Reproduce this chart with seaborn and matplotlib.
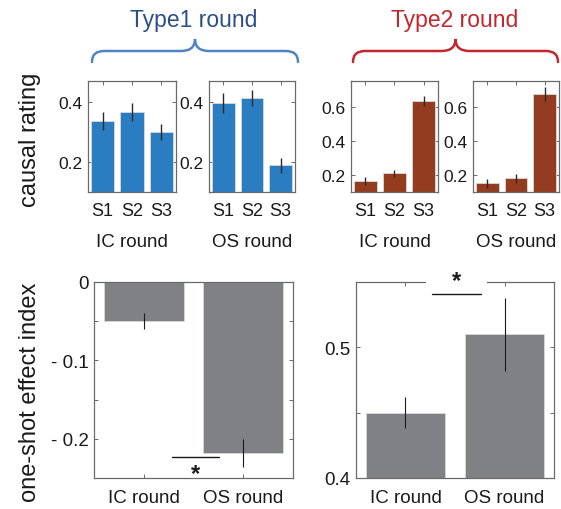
"""Causal ratings per stage and one-shot effect index, Type1 vs Type2 rounds."""

import matplotlib
matplotlib.use("Agg")
import matplotlib.pyplot as plt
from matplotlib.path import Path
from matplotlib.patches import PathPatch
import numpy as np
import pandas as pd
import seaborn as sns

# ── Data ────────────────────────────────────────────
stages = ["S1", "S2", "S3"]
rounds = ["IC round", "OS round"]

type1_ic = [0.337, 0.367, 0.300]
type1_ic_err = [0.030, 0.030, 0.027]
type1_os = [0.397, 0.413, 0.190]
type1_os_err = [0.033, 0.027, 0.025]

type2_ic = [0.165, 0.210, 0.635]
type2_ic_err = [0.022, 0.020, 0.030]
type2_os = [0.150, 0.180, 0.675]
type2_os_err = [0.025, 0.025, 0.040]

effect_type1 = [-0.050, -0.218]
effect_type1_err = [0.010, 0.018]
effect_type2 = [0.450, 0.510]
effect_type2_err = [0.012, 0.028]

# significance bars: (x from, x to, y) in data units of the bottom panels
sig_type1 = (0.28, 0.76, -0.2236)
sig_type2 = (0.27, 0.76, 0.541)

# ── Style ───────────────────────────────────────────
sns.set_theme(style="ticks")
plt.rcParams["font.family"] = ["Liberation Sans", "DejaVu Sans"]

BLUE = "#2b7dc1"
BROWN = "#933c20"
GREY = "#808184"
SPINE = "#6a6a6a"
BLUE_TXT = "#2c4f88"
BLUE_BRACE = "#5384c2"
RED = "#c1272d"

fig = plt.figure(figsize=(5.61, 5.10), dpi=100)
W, H = 561, 510


def px_axes(left, right, top, bottom):
    return fig.add_axes([left / W, 1 - bottom / H, (right - left) / W, (bottom - top) / H])


def style_axes(ax, fs=12.5):
    for s in ax.spines.values():
        s.set_visible(True)
        s.set_color(SPINE)
        s.set_linewidth(0.9)
    ax.tick_params(direction="in", length=3, width=0.7, color=SPINE,
                   top=True, right=True, labelsize=fs, labelcolor="#1a1a1a", pad=4)
    ax.set_xlabel("")
    ax.set_ylabel("")


def bar_panel(ax, cats, vals, errs, color, err_color="#2a2a2a", err_lw=1.0):
    df = pd.DataFrame({"cat": cats, "val": vals})
    sns.barplot(data=df, x="cat", y="val", color=color, width=0.8,
                saturation=1, errorbar=None, edgecolor="#d9d9d9", linewidth=0.6, ax=ax)
    ax.errorbar(np.arange(len(cats)), vals, yerr=errs, fmt="none",
                ecolor=err_color, elinewidth=err_lw, capsize=0, zorder=5)
    ax.set_xlim(-0.5, len(cats) - 0.5)


# ── Top row: causal ratings ─────────────────────────
top_specs = [
    ((88, 176), type1_ic, type1_ic_err, BLUE, (0.1, 0.47), [0.2, 0.4], "IC round"),
    ((209, 295), type1_os, type1_os_err, BLUE, (0.1, 0.47), [0.2, 0.4], "OS round"),
    ((351, 438), type2_ic, type2_ic_err, BROWN, (0.1, 0.75), [0.2, 0.4, 0.6], "IC round"),
    ((473, 559), type2_os, type2_os_err, BROWN, (0.1, 0.75), [0.2, 0.4, 0.6], "OS round"),
]
for (l, r), vals, errs, col, ylim, yt, lab in top_specs:
    ax = px_axes(l, r, 82, 193)
    bar_panel(ax, stages, vals, errs, col)
    ax.set_ylim(*ylim)
    ax.set_yticks(yt)
    ax.set_yticklabels([f"{v:.1f}" for v in yt])
    style_axes(ax, fs=12.5)
    ax.tick_params(axis="x", labelsize=13, pad=7)
    ax.set_xlabel(lab, fontsize=13.5, color="#1a1a1a", labelpad=10)

fig.text(30 / W, 1 - 140 / H, "causal rating", rotation=90, fontsize=17,
         ha="center", va="center", color="#1a1a1a")

# ── Bottom row: one-shot effect index ───────────────
ax1 = px_axes(94, 293, 283, 479)
bar_panel(ax1, rounds, effect_type1, effect_type1_err, GREY, err_color="#1a1a1a", err_lw=0.8)
ax1.set_ylim(-0.25, 0)
ax1.set_yticks([0, -0.05, -0.1, -0.15, -0.2, -0.25])
ax1.set_yticklabels(["0", "", "- 0.1", "", "- 0.2", ""])
style_axes(ax1, fs=13.5)
ax1.tick_params(axis="x", pad=8)
x0, x1, y = sig_type1
ax1.plot([x0, x1], [y, y], color="#1a1a1a", lw=1.0)
ax1.text((x0 + x1) / 2, y - 0.006, "*", fontsize=17, fontweight="bold",
         ha="center", va="top", color="#1a1a1a")

ax2 = px_axes(356, 554, 283, 479)
bar_panel(ax2, rounds, effect_type2, effect_type2_err, GREY, err_color="#1a1a1a", err_lw=0.8)
ax2.set_ylim(0.4, 0.55)
ax2.set_yticks([0.4, 0.45, 0.5, 0.55])
ax2.set_yticklabels(["0.4", "", "0.5", ""])
style_axes(ax2, fs=13.5)
ax2.tick_params(axis="x", pad=8)
x0, x1, y = sig_type2
ax2.plot([x0, x1], [y, y], color="#1a1a1a", lw=1.0)
# white gap in the top frame behind the star
ax2.plot([x0 - 0.06, x1 + 0.06], [0.55, 0.55], color="white", lw=3,
         clip_on=False, zorder=6, solid_capstyle="butt")
ax2.text((x0 + x1) / 2, 0.5515, "*", fontsize=17, fontweight="bold",
         ha="center", va="center", color="#1a1a1a", clip_on=False, zorder=10)

fig.text(30 / W, 1 - 392 / H, "one-shot effect index", rotation=90, fontsize=17,
         ha="center", va="center", color="#1a1a1a")


# ── Braces and group titles ─────────────────────────
def brace(x_left, x_right, color):
    """Curly brace opening downward, in pixel coordinates of the figure."""
    xm = (x_left + x_right) / 2
    y_end, y_flat, y_tip = 63, 52, 40
    pts = [(x_left, y_end), (x_left, y_flat), (x_left + 12, y_flat),
           (xm - 14, y_flat), (xm, y_flat), (xm, y_tip),
           (xm, y_flat), (xm + 14, y_flat),
           (x_right - 12, y_flat), (x_right, y_flat), (x_right, y_end)]
    codes = [Path.MOVETO, Path.CURVE3, Path.CURVE3,
             Path.LINETO, Path.CURVE3, Path.CURVE3,
             Path.CURVE3, Path.CURVE3,
             Path.LINETO, Path.CURVE3, Path.CURVE3]
    verts = [(x / W, 1 - y / H) for x, y in pts]
    fig.add_artist(PathPatch(Path(verts, codes), fc="none", ec=color, lw=1.8,
                             transform=fig.transFigure, capstyle="round"))


brace(92, 298, BLUE_BRACE)
brace(353, 558, RED)
fig.text(194 / W, 1 - 21 / H, "Type1 round", fontsize=16.5, color=BLUE_TXT,
         ha="center", va="center")
fig.text(455 / W, 1 - 21 / H, "Type2 round", fontsize=16.5, color=RED,
         ha="center", va="center")

fig.savefig("out.png", dpi=100, facecolor="white")
